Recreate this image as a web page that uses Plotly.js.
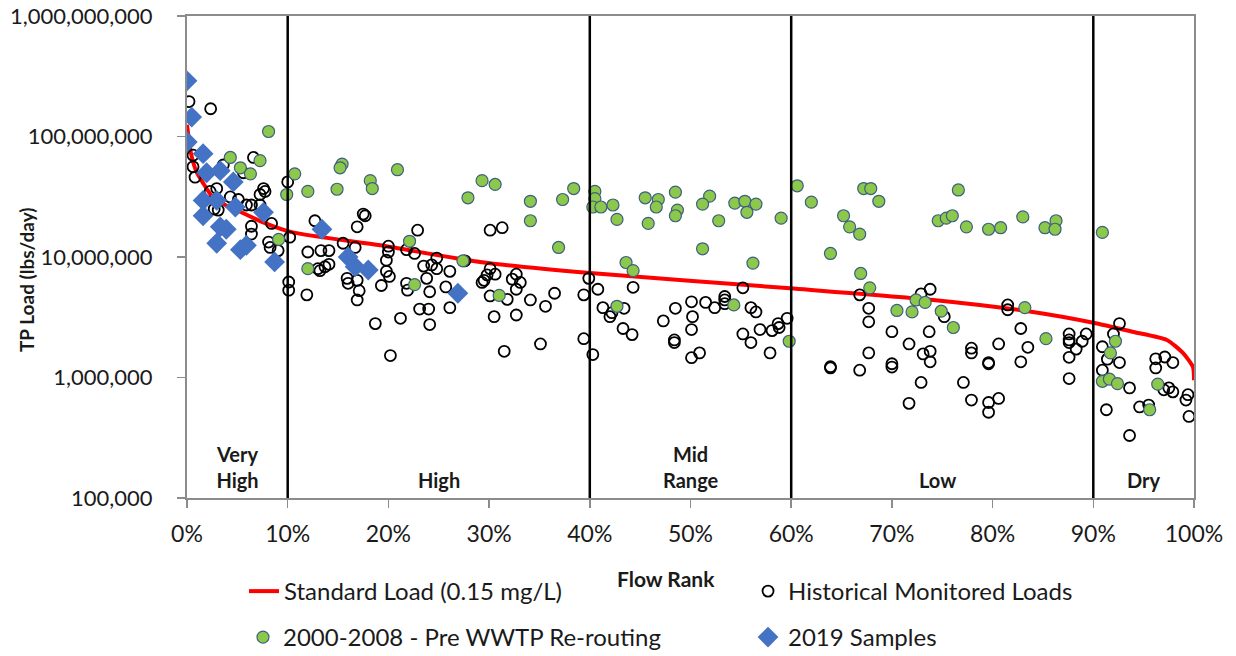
<!DOCTYPE html>
<html>
<head>
<meta charset="utf-8">
<script src="https://cdn.plot.ly/plotly-3.0.1.min.js"></script>
<style>
  html, body { margin: 0; padding: 0; background: #ffffff; }
  #chart { width: 1236px; height: 656px; }
</style>
</head>
<body>
<div id="chart"></div>
<script>
// ---------------- DATA ----------------
// Standard load curve (0.15 mg/L), flow rank in %
const stdRank = [0, 0.4, 0.9, 1.6, 2.6, 3.8, 5.4, 7.5, 10.5, 19.2, 29.1, 39.7, 59.9, 74.1, 84, 90, 93.9, 97.3, 98.9, 99.9, 100];
const stdLoad = [1.25e8, 7.2e7, 5.2e7, 4.1e7, 3.1e7, 2.7e7, 2.35e7, 1.95e7, 1.6e7, 1.25e7, 9.1e6, 7.4e6, 5.5e6, 4.4e6, 3.5e6, 2.85e6, 2.4e6, 2.05e6, 1.6e6, 1.22e6, 9.5e5];

// Historical monitored loads
const histRank = [
  0.2, 2.35, 0.6, 0.6, 0.8, 6.6, 5.6, 3.6, 7.6, 7.75, 7.25, 2.95, 4.3, 5.1, 5.9, 6.4, 7.25, 3.1, 2.3, 2.7,
  8.4, 6.4, 6.4, 8.1, 8.25, 9.05, 10.2, 10.1, 10.1, 10.0,
  12.7, 12.0, 13.3, 14.1, 13.0, 13.2, 13.7, 14.1, 11.9, 17.5, 17.7, 16.9, 15.5, 16.7, 15.9, 16.0, 16.9, 17.1, 16.9, 18.7,
  19.3, 19.8, 19.8, 20.1, 20.0, 20.0, 20.2, 21.2, 21.8, 22.6, 22.9, 21.8, 21.9, 23.1, 24.0, 24.1, 24.1, 23.8, 23.5, 24.3,
  24.8, 24.8, 26.1, 25.7, 26.1, 27.6, 29.3, 29.5, 29.8, 30.1, 30.6, 30.1, 31.3, 30.1, 30.5, 31.5, 31.8, 32.3, 32.7, 33.1,
  32.7, 32.7, 34.1, 35.1, 35.6, 36.5, 39.4, 39.4, 39.9, 40.3, 40.8,
  44.3, 41.3, 42.2, 42.0, 43.4, 43.3, 44.2, 47.3, 48.5, 48.4, 48.4, 50.1, 50.2, 50.1, 50.1, 50.9, 51.5, 52.4, 53.4, 53.4,
  53.4, 55.2, 56.0, 56.5, 55.2, 56.0, 56.9, 57.9, 58.1, 58.7, 58.8, 59.6,
  66.8, 67.7, 67.7, 67.7, 66.8, 63.9, 63.9, 70.0, 70.0, 70.0, 71.7, 71.7, 72.9, 73.8, 72.9, 73.1, 73.8, 73.8, 73.7, 75.2,
  77.1, 77.9, 77.9, 77.9, 79.6, 79.6, 79.6, 79.6, 80.6, 80.6, 82.8, 82.8, 81.5, 81.5, 83.5, 87.6, 87.6, 87.6, 87.6, 87.6,
  88.3, 88.9, 89.3,
  92.6, 92.0, 90.9, 91.4, 92.6, 90.9, 93.6, 91.3, 93.6, 94.6, 95.5, 96.2, 97.1, 97.9, 96.2, 97.5, 97.0, 97.9, 99.4, 99.2, 99.5
];
const histLoad = [
  1.95e8, 1.7e8, 7.0e7, 5.6e7, 4.6e7, 6.7e7, 5.0e7, 5.8e7, 3.7e7, 3.5e7, 3.3e7, 3.7e7, 3.15e7, 3.0e7, 2.7e7, 2.7e7, 2.7e7, 2.45e7, 3.5e7, 2.5e7,
  1.9e7, 1.8e7, 1.55e7, 1.33e7, 1.2e7, 1.13e7, 1.46e7, 6.2e6, 5.3e6, 4.2e7,
  2.0e7, 1.1e7, 1.13e7, 1.13e7, 8.0e6, 7.7e6, 8.3e6, 8.7e6, 4.85e6, 2.27e7, 2.2e7, 1.78e7, 1.3e7, 1.2e7, 6.65e6, 6.05e6, 6.4e6, 5.25e6, 4.4e6, 2.8e6,
  5.8e6, 9.4e6, 7.6e6, 6.9e6, 1.23e7, 1.1e7, 1.52e6, 3.1e6, 1.15e7, 1.07e7, 1.67e7, 6.05e6, 5.3e6, 3.7e6, 3.7e6, 2.75e6, 5.15e6, 6.65e6, 8.4e6, 8.6e6,
  8.0e6, 9.8e6, 7.6e6, 5.65e6, 3.8e6, 9.3e6, 6.15e6, 6.4e6, 7.1e6, 8.0e6, 7.2e6, 1.67e7, 1.75e7, 4.75e6, 3.2e6, 1.65e6, 4.45e6, 6.55e6, 7.2e6, 6.15e6,
  5.4e6, 3.3e6, 4.4e6, 1.9e6, 3.9e6, 5.0e6, 2.1e6, 4.85e6, 6.65e6, 1.55e6, 5.4e6,
  5.6e6, 3.8e6, 3.45e6, 3.2e6, 3.75e6, 2.55e6, 2.27e6, 2.95e6, 3.75e6, 2.05e6, 1.95e6, 4.25e6, 3.2e6, 2.5e6, 1.46e6, 1.6e6, 4.2e6, 3.8e6, 4.7e6, 4.4e6,
  4.1e6, 5.55e6, 3.8e6, 3.5e6, 2.3e6, 1.95e6, 2.5e6, 1.6e6, 2.45e6, 2.8e6, 2.6e6, 3.1e6,
  4.85e6, 3.75e6, 2.9e6, 1.6e6, 1.15e6, 1.23e6, 1.2e6, 1.3e6, 1.22e6, 2.4e6, 1.9e6, 6.1e5, 4.95e6, 5.4e6, 9.1e5, 1.57e6, 1.65e6, 1.35e6, 2.4e6, 3.2e6,
  9.1e5, 1.75e6, 1.6e6, 6.5e5, 1.33e6, 1.3e6, 6.2e5, 5.15e5, 1.9e6, 6.7e5, 2.55e6, 1.35e6, 4.0e6, 3.65e6, 1.78e6, 2.3e6, 2.05e6, 1.95e6, 1.47e6, 9.8e5,
  1.72e6, 2.0e6, 2.3e6,
  2.8e6, 2.3e6, 1.8e6, 1.42e6, 1.33e6, 1.15e6, 8.2e5, 5.4e5, 3.3e5, 5.7e5, 5.9e5, 1.43e6, 1.48e6, 1.33e6, 1.2e6, 8.2e5, 7.9e5, 7.6e5, 7.2e5, 6.5e5, 4.75e5
];

// 2000-2008 - Pre WWTP Re-routing
const preRank = [
  8.1, 4.3, 7.25, 5.3, 6.3, 10.7, 9.9, 9.1, 12.0, 15.4, 15.2, 14.9, 18.2, 18.4, 20.9, 29.3, 30.6, 27.9, 34.1, 34.1,
  37.3, 38.4, 36.9, 22.1, 12.0, 22.6, 27.4, 31.0,
  40.5, 40.5, 40.3, 41.1, 42.3, 42.7, 45.5, 46.8, 46.6, 45.8, 48.5, 48.7, 48.5, 51.9, 51.2, 52.8, 54.4, 55.4, 56.5, 55.6, 59.0, 60.6,
  62.0, 51.2, 43.6, 44.3, 56.2, 42.7, 54.3, 59.8,
  67.2, 67.9, 68.7, 65.2, 65.8, 66.8, 63.9, 66.9, 67.8, 76.6, 74.6, 75.4, 76.0, 77.4, 79.6, 80.8, 83.0, 85.2, 86.3, 86.2,
  90.9, 70.5, 72.0, 72.4, 73.3, 74.9, 76.1, 83.2, 85.3, 92.2, 91.7, 90.9, 91.6, 92.4, 96.4, 95.6
];
const preLoad = [
  1.1e8, 6.7e7, 6.3e7, 5.5e7, 4.9e7, 4.9e7, 3.3e7, 1.4e7, 3.5e7, 5.9e7, 5.5e7, 3.65e7, 4.3e7, 3.7e7, 5.3e7, 4.3e7, 4.0e7, 3.1e7, 2.9e7, 2.0e7,
  3.0e7, 3.7e7, 1.2e7, 1.35e7, 8.0e6, 5.9e6, 9.3e6, 4.8e6,
  3.5e7, 3.05e7, 2.6e7, 2.6e7, 2.7e7, 2.05e7, 3.1e7, 3.0e7, 2.6e7, 1.9e7, 3.45e7, 2.45e7, 2.2e7, 3.2e7, 2.75e7, 2.0e7, 2.8e7, 2.9e7, 2.75e7, 2.35e7, 2.1e7, 3.9e7,
  2.85e7, 1.17e7, 9.0e6, 7.7e6, 8.9e6, 3.9e6, 4.0e6, 2.0e6,
  3.7e7, 3.7e7, 2.9e7, 2.2e7, 1.78e7, 1.55e7, 1.07e7, 7.3e6, 5.55e6, 3.6e7, 2.0e7, 2.1e7, 2.2e7, 1.78e7, 1.7e7, 1.75e7, 2.15e7, 1.75e7, 2.0e7, 1.7e7,
  1.6e7, 3.6e6, 3.5e6, 4.4e6, 4.2e6, 3.55e6, 2.6e6, 3.8e6, 2.1e6, 2.0e6, 1.6e6, 9.3e5, 9.7e5, 8.9e5, 8.8e5, 5.4e5
];

// 2019 Samples
const s2019Rank = [0.0, 0.47, 0.03, 1.6, 1.95, 3.3, 4.6, 1.6, 2.95, 1.6, 4.8, 7.6, 3.3, 3.9, 2.95, 5.3, 5.9, 8.7, 13.4, 16.0, 16.7, 18.0, 26.9];
const s2019Load = [2.9e8, 1.45e8, 9.0e7, 7.2e7, 5.0e7, 5.2e7, 4.2e7, 2.95e7, 2.95e7, 2.2e7, 2.6e7, 2.35e7, 1.78e7, 1.7e7, 1.3e7, 1.15e7, 1.25e7, 9.1e6, 1.7e7, 1.0e7, 8.3e6, 7.8e6, 5.0e6];

// Flow regime boundaries and labels
const flowBreaks = [10, 40, 60, 90];
const zoneCenters = [5, 25, 50, 74.5, 95];
const zoneLabels = ['Very<br>High', 'High', 'Mid<br>Range', 'Low', 'Dry'];

const yTicks = [1e5, 1e6, 1e7, 1e8, 1e9];
const xTicks = [0, 10, 20, 30, 40, 50, 60, 70, 80, 90, 100];

// ---------------- CHART ----------------
const FONT = 'Lato, "Open Sans", "Liberation Sans", sans-serif';
const TXT = '#1a1a1a';
const AXC = '#8c8c8c';

const traces = [
  {
    x: stdRank, y: stdLoad, type: 'scatter', mode: 'lines',
    name: 'Standard Load (0.15 mg/L)',
    line: { color: '#ff0000', width: 4, shape: 'spline', smoothing: 0.6 },
    legend: 'legend'
  },
  {
    x: histRank, y: histLoad, type: 'scatter', mode: 'markers',
    name: 'Historical Monitored Loads',
    marker: { symbol: 'circle-open', size: 11, color: '#000000', line: { width: 1.8, color: '#000000' } },
    legend: 'legend2'
  },
  {
    x: preRank, y: preLoad, type: 'scatter', mode: 'markers',
    name: '2000-2008 - Pre WWTP Re-routing',
    marker: { symbol: 'circle', size: 12, color: '#8cc84b', line: { width: 1.2, color: '#3f5f7f' } },
    legend: 'legend3'
  },
  {
    x: s2019Rank, y: s2019Load, type: 'scatter', mode: 'markers',
    name: '2019 Samples',
    marker: { symbol: 'diamond', size: 16, color: '#4472c4', line: { width: 0 } },
    legend: 'legend4'
  }
];

const shapes = flowBreaks.map(b => ({
  type: 'line', xref: 'x', yref: 'paper', x0: b, x1: b, y0: 0, y1: 1,
  line: { color: '#000000', width: 2.5 }
}));

const annotations = zoneLabels.map((t, i) => ({
  text: '<b>' + t + '</b>', xref: 'x', yref: 'paper', x: zoneCenters[i], y: 0.008,
  xanchor: 'center', yanchor: 'bottom', showarrow: false,
  font: { family: FONT, size: 20, color: TXT }
}));
annotations.push({
  text: '<b>Flow Rank</b>', xref: 'paper', yref: 'paper', x: 0.4757, y: -0.168,
  xanchor: 'center', yanchor: 'middle', showarrow: false,
  font: { family: FONT, size: 21, color: TXT }
});
annotations.push({
  text: '<b>TP Load (lbs/day)</b>', xref: 'paper', yref: 'paper', x: -0.160, y: 0.454,
  xanchor: 'center', yanchor: 'middle', showarrow: false, textangle: -90,
  font: { family: FONT, size: 19, color: TXT }
});

function legendAt(xc, yc) {
  return {
    orientation: 'h', xref: 'container', yref: 'container',
    x: xc, y: yc, xanchor: 'left', yanchor: 'top',
    font: { family: FONT, size: 24, color: TXT },
    bgcolor: 'rgba(0,0,0,0)', borderwidth: 0
  };
}

const layout = {
  width: 1236, height: 656,
  margin: { l: 187, r: 42, t: 16, b: 158, autoexpand: false },
  paper_bgcolor: '#ffffff', plot_bgcolor: '#ffffff',
  font: { family: FONT, size: 23, color: TXT },
  showlegend: true,
  xaxis: {
    range: [0, 100], tickvals: xTicks, ticktext: xTicks.map(v => v + '%'),
    ticks: 'outside', ticklen: 8, tickwidth: 1.5, tickcolor: AXC,
    showline: true, linecolor: AXC, linewidth: 2, mirror: true,
    showgrid: false, zeroline: false, ticklabelstandoff: 6,
    tickfont: { family: FONT, size: 23, color: TXT }
  },
  yaxis: {
    type: 'log', range: [5, 9], tickvals: yTicks, tickformat: ',.0f',
    ticks: 'outside', ticklen: 8, tickwidth: 1.5, tickcolor: AXC,
    showline: true, linecolor: AXC, linewidth: 2, mirror: true,
    showgrid: false, zeroline: false, ticklabelstandoff: 20,
    tickfont: { family: FONT, size: 22, color: TXT }
  },
  legend: legendAt(0.1974, 0.1326),
  legend2: legendAt(0.6052, 0.1326),
  legend3: legendAt(0.1966, 0.0625),
  legend4: legendAt(0.6052, 0.0625),
  shapes: shapes,
  annotations: annotations
};

Plotly.newPlot('chart', traces, layout, { displayModeBar: false, staticPlot: true });
</script>
</body>
</html>
